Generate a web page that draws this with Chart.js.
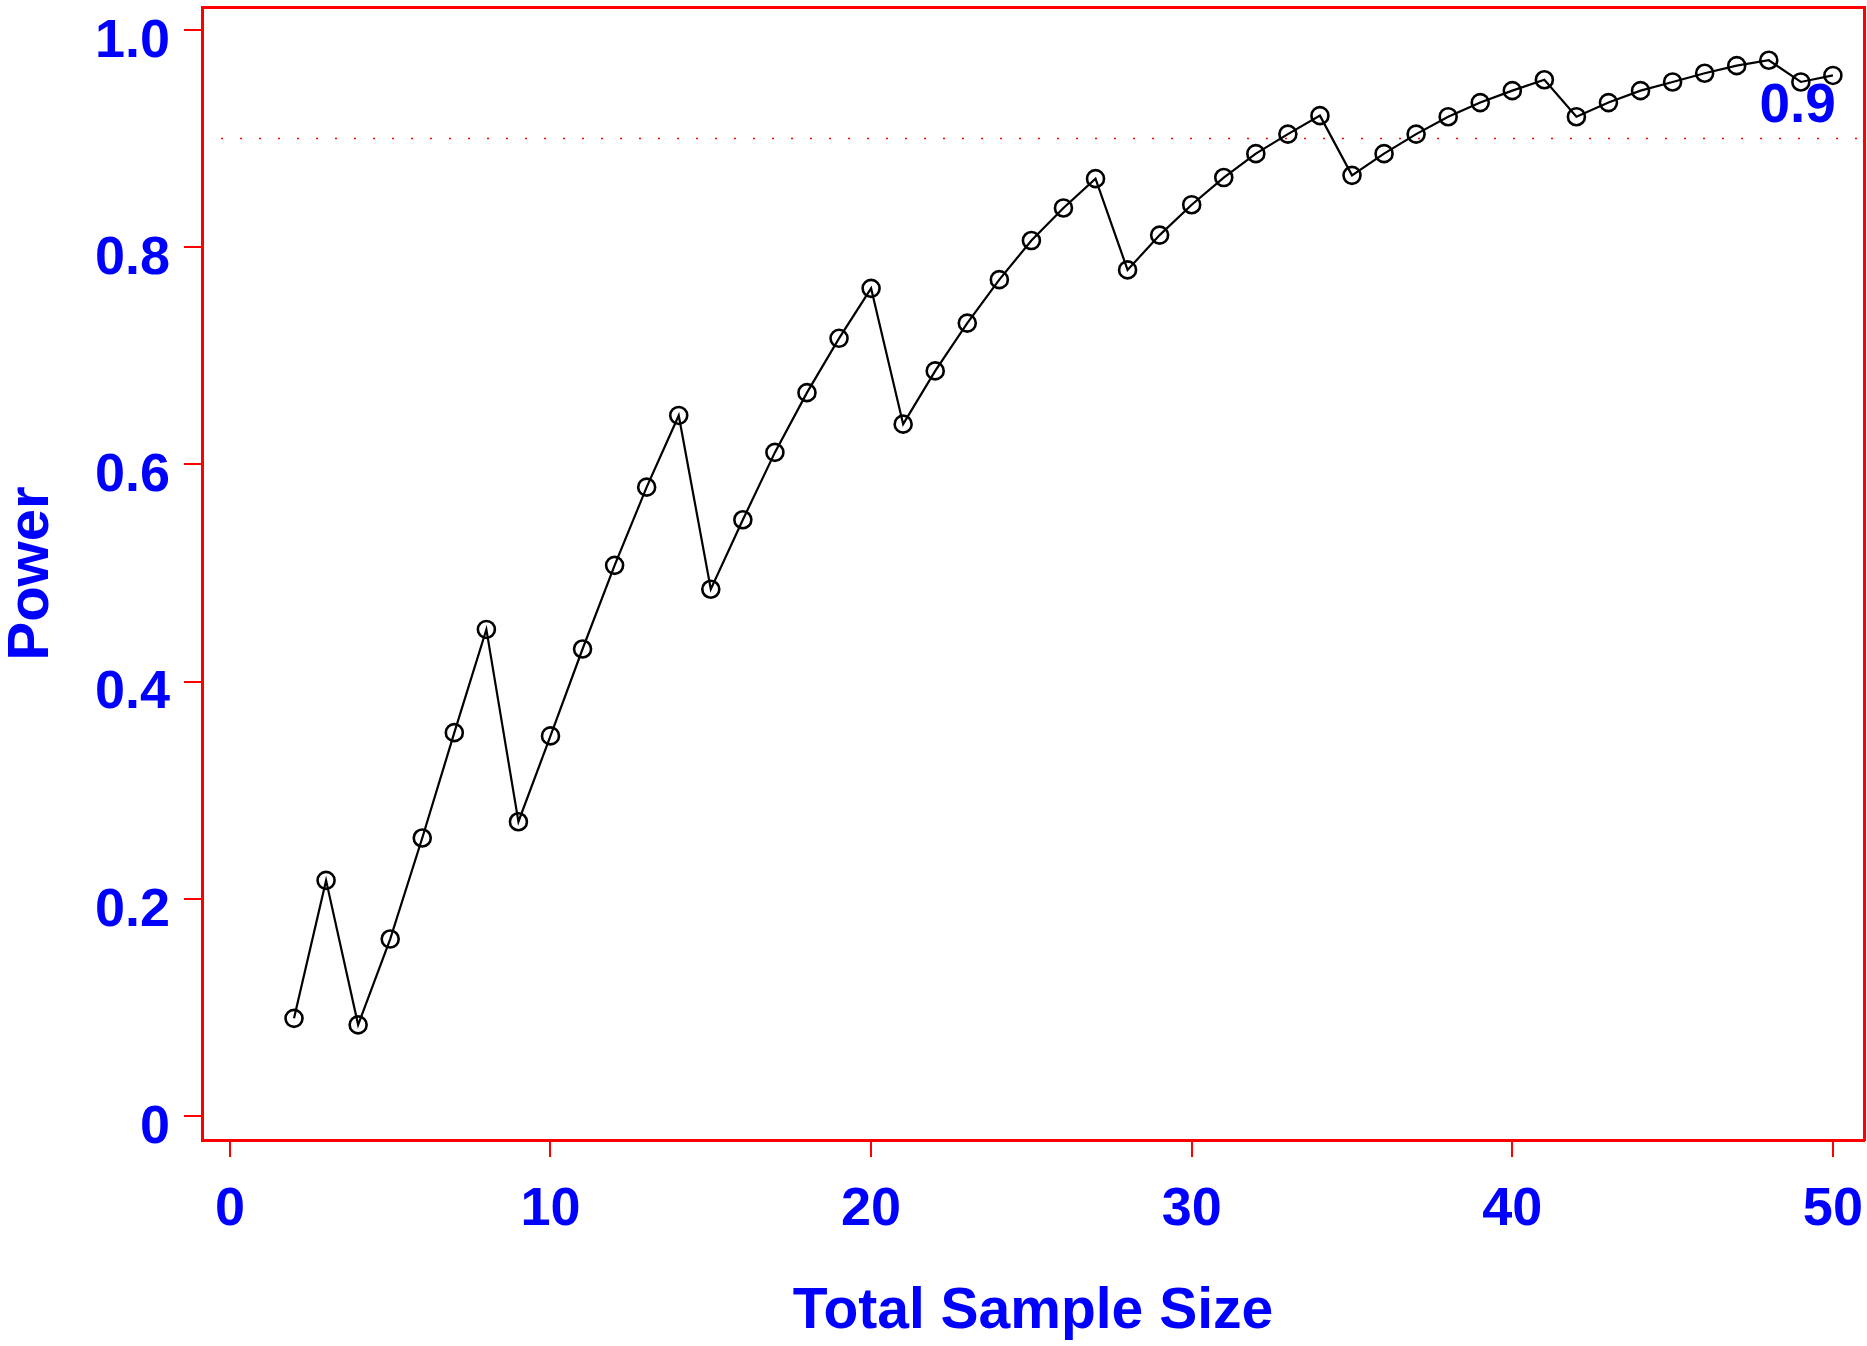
<!DOCTYPE html>
<html>
<head>
<meta charset="utf-8">
<title>Power by Total Sample Size</title>
<script src="https://cdn.jsdelivr.net/npm/chart.js@4.4.1/dist/chart.umd.min.js"></script>
<style>
  html, body { margin: 0; padding: 0; background: #fff; }
  #wrap { width: 1867px; height: 1346px; }
</style>
</head>
<body>
<div id="wrap"><canvas id="powerChart" width="1867" height="1346"></canvas></div>
<script>
const sampleSizes = [2, 3, 4, 5, 6, 7, 8, 9, 10, 11, 12, 13, 14, 15, 16, 17, 18, 19, 20, 21, 22, 23, 24, 25, 26,
  27, 28, 29, 30, 31, 32, 33, 34, 35, 36, 37, 38, 39, 40, 41, 42, 43, 44, 45, 46, 47, 48, 49, 50];
const powerValues = [0.090, 0.217, 0.084, 0.163, 0.256, 0.353, 0.448, 0.271, 0.350, 0.430, 0.507, 0.579, 0.645,
  0.485, 0.549, 0.611, 0.666, 0.716, 0.762, 0.637, 0.686, 0.730, 0.770, 0.806, 0.836, 0.863, 0.779, 0.811,
  0.839, 0.864, 0.886, 0.904, 0.921, 0.866, 0.886, 0.904, 0.920, 0.933, 0.944, 0.954, 0.920, 0.933, 0.944,
  0.952, 0.960, 0.967, 0.972, 0.952, 0.958];

const xTickValues = [0, 10, 20, 30, 40, 50];
const yTickValues = [0, 0.2, 0.4, 0.6, 0.8, 1.0];
const yTickLabels = ['0', '0.2', '0.4', '0.6', '0.8', '1.0'];
const xRange = [-0.87, 50.97];
const yRange = [-0.022, 1.021];
const targetPower = 0.9;
const targetLabel = '0.9';

const BLUE = '#0000ff';
const RED = '#ff0000';
const FONT = "'Liberation Sans Narrow', 'Arial Narrow', 'Liberation Sans', Arial, sans-serif";

const points = sampleSizes.map((n, i) => ({ x: n, y: powerValues[i] }));
const refPoints = xRange.map((x) => ({ x, y: targetPower }));

// label for the reference line, sits just above it at the right end
const targetLabelPlugin = {
  id: 'targetLabel',
  beforeDatasetsDraw(chart) {
    const { ctx, scales } = chart;
    ctx.save();
    ctx.font = `bold 55px ${FONT}`;
    ctx.fillStyle = BLUE;
    ctx.textAlign = 'right';
    ctx.textBaseline = 'alphabetic';
    ctx.fillText(targetLabel, scales.x.getPixelForValue(50) + 3, scales.y.getPixelForValue(targetPower) - 16);
    ctx.restore();
  },
};

function fixedTicks(values) {
  return (scale) => {
    scale.ticks = values.map((v) => ({ value: v }));
  };
}

// fix the axis box size and drop the extra room chart.js keeps for overhanging labels
function fixSize(prop, size) {
  return (scale) => {
    scale[prop] = size;
    scale.paddingTop = 0;
    scale.paddingBottom = 0;
    scale.paddingLeft = 0;
    scale.paddingRight = 0;
  };
}

// eslint-disable-next-line no-undef
new Chart(document.getElementById('powerChart'), {
  type: 'line',
  data: {
    datasets: [
      {
        label: 'Power',
        data: points,
        borderColor: '#000',
        borderWidth: 2.2,
        backgroundColor: 'rgba(0,0,0,0)',
        pointStyle: 'circle',
        pointRadius: 8.5,
        pointBorderWidth: 2.6,
        pointBorderColor: '#000',
        pointBackgroundColor: 'rgba(0,0,0,0)',
        tension: 0,
        order: 1,
      },
      {
        label: 'Target',
        data: refPoints,
        borderColor: RED,
        borderWidth: 1.5,
        borderDash: [2, 17],
        pointRadius: 0,
        order: 2,
      },
    ],
  },
  options: {
    responsive: false,
    animation: false,
    parsing: false,
    layout: { autoPadding: false, padding: { top: 7, right: 3, left: 0, bottom: 0 } },
    plugins: { legend: { display: false }, tooltip: { enabled: false } },
    scales: {
      x: {
        type: 'linear',
        position: 'bottom',
        min: xRange[0],
        max: xRange[1],
        afterBuildTicks: fixedTicks(xTickValues),
        afterFit: fixSize('height', 206),
        border: { display: true, color: RED, width: 3 },
        grid: { drawOnChartArea: false, drawTicks: true, tickLength: 17, color: RED, lineWidth: 2 },
        ticks: {
          color: BLUE,
          padding: 21,
          maxRotation: 0,
          font: { family: FONT, size: 54, weight: 'bold' },
          callback: (v) => String(v),
        },
        title: {
          display: true,
          text: 'Total Sample Size',
          color: BLUE,
          font: { family: FONT, size: 57, weight: 'bold', lineHeight: 1 },
          padding: { top: 0, bottom: 5 },
        },
      },
      y: {
        type: 'linear',
        position: 'left',
        min: yRange[0],
        max: yRange[1],
        afterBuildTicks: fixedTicks(yTickValues),
        afterFit: fixSize('width', 202),
        border: { display: true, color: RED, width: 3 },
        grid: { drawOnChartArea: false, drawTicks: true, tickLength: 18, color: RED, lineWidth: 2 },
        ticks: {
          color: BLUE,
          padding: 14,
          labelOffset: 12,
          font: { family: FONT, size: 54, weight: 'bold' },
          callback: (v) => yTickLabels[yTickValues.indexOf(v)],
        },
        title: {
          display: true,
          text: 'Power',
          color: BLUE,
          font: { family: FONT, size: 58, weight: 'bold', lineHeight: 1 },
          padding: { top: 3, bottom: 0 },
        },
      },
      x2: {
        type: 'linear',
        position: 'top',
        min: xRange[0],
        max: xRange[1],
        afterFit: fixSize('height', 0),
        border: { display: true, color: RED, width: 3 },
        grid: { display: false },
        ticks: { display: false },
      },
      y2: {
        type: 'linear',
        position: 'right',
        min: yRange[0],
        max: yRange[1],
        afterFit: fixSize('width', 0),
        border: { display: true, color: RED, width: 3 },
        grid: { display: false },
        ticks: { display: false },
      },
    },
  },
  plugins: [targetLabelPlugin],
});
</script>
</body>
</html>
